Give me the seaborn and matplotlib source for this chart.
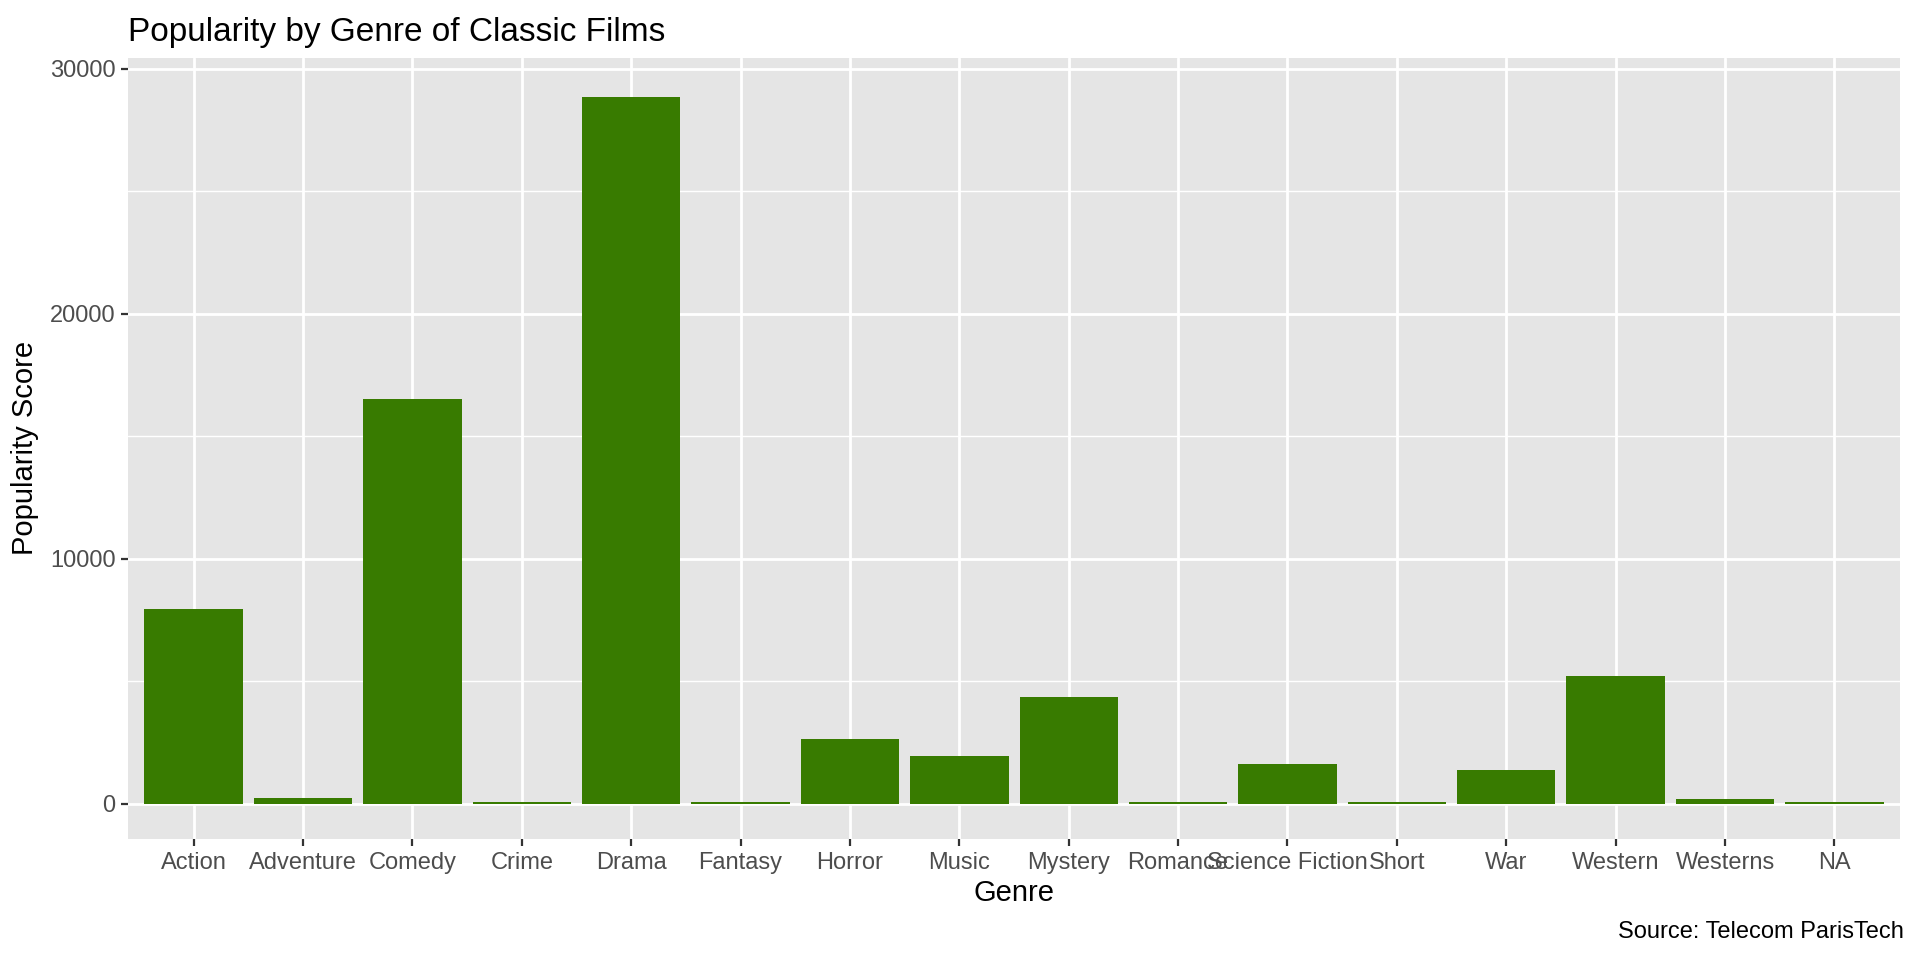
import matplotlib
matplotlib.use("Agg")
import matplotlib.pyplot as plt
from matplotlib.ticker import MultipleLocator
import pandas as pd
import seaborn as sns

genres = ["Action", "Adventure", "Comedy", "Crime", "Drama", "Fantasy", "Horror",
          "Music", "Mystery", "Romance", "Science Fiction", "Short", "War",
          "Western", "Westerns", "NA"]
popularity = [7960, 245, 16530, 60, 28860, 60, 2650,
              1960, 4370, 60, 1635, 60, 1390,
              5225, 205, 95]

d = pd.DataFrame({"Genre": genres, "Popularity Score": popularity})

sns.set_theme(style="darkgrid", rc={
    "axes.facecolor": "#E5E5E5",
    "grid.color": "white",
    "axes.edgecolor": "none",
})
plt.rcParams["font.family"] = ["Liberation Sans", "DejaVu Sans"]

fig, ax = plt.subplots(figsize=(19.2, 9.6), dpi=100)
fig.subplots_adjust(left=0.0667, right=0.9896, top=0.940, bottom=0.126)

sns.barplot(data=d, x="Genre", y="Popularity Score", color="#387B00",
            saturation=1, width=0.9, errorbar=None, ax=ax, zorder=3,
            linewidth=0, edgecolor="none")

# ggplot-like expansion
top = max(popularity) * 1.055
ax.set_ylim(-top * 0.047, top)
ax.set_xlim(-0.6, len(genres) - 0.4)

ax.yaxis.set_major_locator(MultipleLocator(10000))
ax.yaxis.set_minor_locator(MultipleLocator(5000))
ax.grid(which="major", color="white", linewidth=2.0)
ax.grid(which="minor", axis="y", color="white", linewidth=1.0)
ax.set_axisbelow(True)

ax.tick_params(axis="both", which="major", labelsize=17, labelcolor="#4D4D4D",
               color="#333333", length=5, width=1.6, direction="out",
               bottom=True, left=True, pad=4)
ax.tick_params(which="minor", length=0)

ax.set_xlabel("Genre", fontsize=21, color="black", labelpad=4)
ax.set_ylabel("Popularity Score", fontsize=21, color="black", labelpad=8)
ax.set_title("Popularity by Genre of Classic Films", loc="left", fontsize=24,
             color="black", pad=12)
fig.text(0.9917, 0.018, "Source: Telecom ParisTech", ha="right", va="bottom",
         fontsize=17, color="black")

for s in ax.spines.values():
    s.set_visible(False)

fig.savefig("out.png", dpi=100)
